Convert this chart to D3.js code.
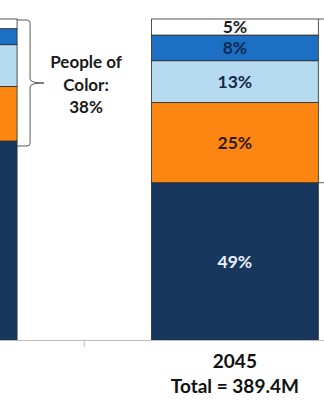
<!DOCTYPE html>
<html>
<head>
<meta charset="utf-8">
<script src="https://cdn.jsdelivr.net/npm/d3@7"></script>
<style>
  html, body { margin: 0; padding: 0; background: #fff; }
  svg { display: block; }
  text { font-family: Lato, "Open Sans", sans-serif; font-weight: 700; }
</style>
</head>
<body>
<div id="chart"></div>
<script>
// Population share by race/ethnicity, stacked bottom to top.
const categories = ["2015", "2045"];
const totals = [null, "389.4M"];
const groups = ["White", "Latino", "Black", "Asian/Pacific Islander", "Other"];
const white  = [62, 49];
const latino = [17, 25];
const black  = [13, 13];
const asian  = [5, 8];
const other  = [3, 5];
const showLabels = [false, true];

const seriesValues = [white, latino, black, asian, other];
const colors = ["#17375e", "#fd8612", "#b6dbf1", "#1c6fc3", "#ffffff"];
const labelColors = ["#e8eef6", "#2b1a08", "#13294a", "#0f2a52", "#1d1d1d"];

const W = 324, H = 400;
const svg = d3.select("#chart").append("svg").attr("width", W).attr("height", H);

const rows = categories.map((c, i) => {
  const r = { category: c };
  groups.forEach((g, k) => r[g] = seriesValues[k][i]);
  return r;
});
const stacked = d3.stack().keys(groups)(rows);

const x = d3.scaleBand().domain(categories)
  .range([-217, 385.5]).paddingInner(0.446).paddingOuter(0.223);
const y = d3.scaleLinear().domain([0, 100]).range([340, 19]);

// Bar segments
const layer = svg.selectAll("g.layer").data(stacked).join("g")
  .attr("class", "layer")
  .attr("fill", (d, i) => colors[i]);

layer.selectAll("rect").data(d => d).join("rect")
  .attr("x", d => x(d.data.category))
  .attr("width", x.bandwidth())
  .attr("y", d => y(d[1]))
  .attr("height", d => y(d[0]) - y(d[1]))
  .attr("stroke", "#2a2a2a")
  .attr("stroke-width", 0.8);

// Percent labels inside each segment
stacked.forEach((s, k) => {
  s.forEach((d, i) => {
    if (!showLabels[i]) return;
    svg.append("text")
      .attr("x", x(d.data.category) + x.bandwidth() / 2)
      .attr("y", (y(d[0]) + y(d[1])) / 2)
      .attr("dy", "0.36em")
      .attr("text-anchor", "middle")
      .attr("font-size", 17.5)
      .attr("fill", labelColors[k])
      .text((d[1] - d[0]) + "%");
  });
});

// Category axis: baseline with a tick between the bars
svg.append("line")
  .attr("x1", 0).attr("x2", W)
  .attr("y1", y(0) + 0.5).attr("y2", y(0) + 0.5)
  .attr("stroke", "#bdbdbd").attr("stroke-width", 1);
const between = (x(categories[0]) + x.bandwidth() + x(categories[1])) / 2;
svg.append("line")
  .attr("x1", between).attr("x2", between)
  .attr("y1", y(0)).attr("y2", y(0) + 7)
  .attr("stroke", "#bdbdbd").attr("stroke-width", 1);

categories.forEach((c, i) => {
  if (!totals[i]) return;
  const cx = x(c) + x.bandwidth() / 2;
  svg.append("text").attr("x", cx).attr("y", 368)
    .attr("text-anchor", "middle").attr("font-size", 19).attr("fill", "#111")
    .text(c);
  svg.append("text").attr("x", cx).attr("y", 393)
    .attr("text-anchor", "middle").attr("font-size", 19).attr("fill", "#111")
    .text("Total = " + totals[i]);
});

// Curly brace grouping the non-white segments of a bar
function brace(x0, yTop, yBot) {
  const x1 = x0 + 13, x2 = x0 + 27, ym = (yTop + yBot) / 2, r = 3;
  const p = d3.path();
  p.moveTo(x0, yTop);
  p.lineTo(x1 - r, yTop);
  p.quadraticCurveTo(x1, yTop, x1, yTop + r);
  p.lineTo(x1, ym - 4);
  p.quadraticCurveTo(x1, ym, x2, ym);
  p.quadraticCurveTo(x1, ym, x1, ym + 4);
  p.lineTo(x1, yBot - r);
  p.quadraticCurveTo(x1, yBot, x1 - r, yBot);
  p.lineTo(x0, yBot);
  svg.append("path").attr("d", p.toString())
    .attr("fill", "none").attr("stroke", "#5a5a5a").attr("stroke-width", 1);
  return { tipX: x2, tipY: ym };
}

const leftEdge0 = x(categories[0]) + x.bandwidth();
const b0 = brace(leftEdge0, y(100) + 1, y(white[0]) + 5);
brace(x(categories[1]) + x.bandwidth(), y(100), y(white[1]));

const poc = 100 - white[0];
const pocLines = ["People of", "Color:", poc + "%"];
const pocX = b0.tipX + 42;
pocLines.forEach((t, i) => {
  svg.append("text")
    .attr("x", pocX)
    .attr("y", 68 + i * 22.5)
    .attr("text-anchor", "middle")
    .attr("font-size", 17)
    .attr("fill", "#1a1a1a")
    .text(t);
});
</script>
</body>
</html>
